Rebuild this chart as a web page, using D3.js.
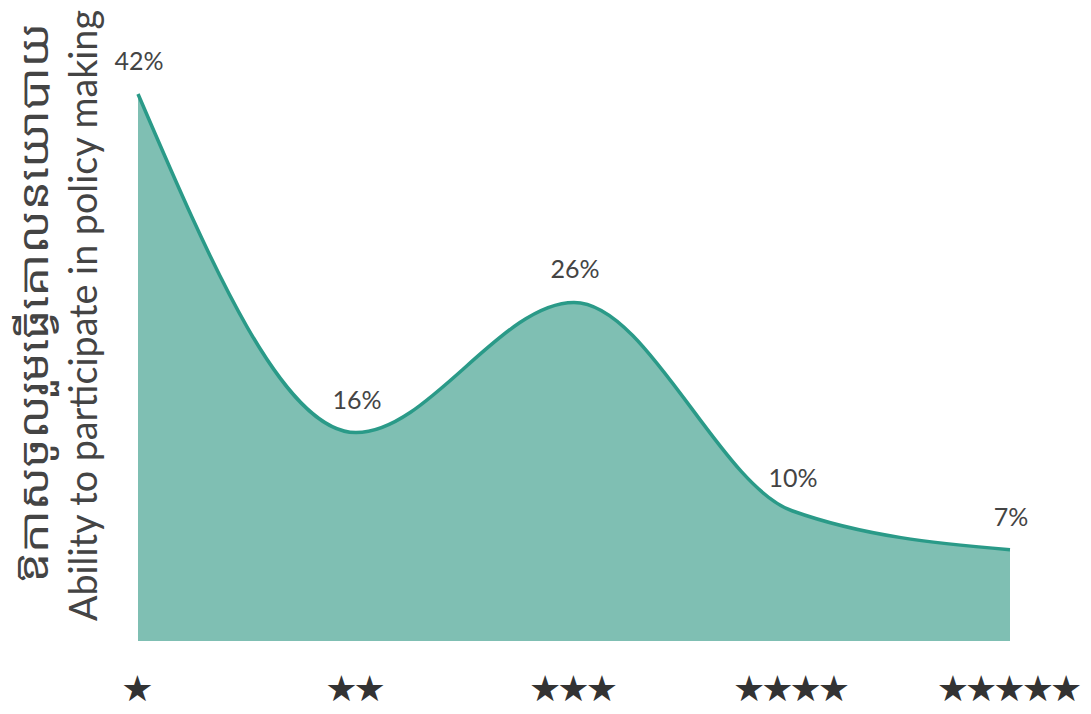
<!DOCTYPE html>
<html>
<head>
<meta charset="utf-8">
<script src="https://cdn.jsdelivr.net/npm/d3@7"></script>
<style>
  html, body { margin: 0; padding: 0; background: #fff; }
  svg { display: block; }
</style>
</head>
<body>
<svg id="chart" width="1091" height="714"></svg>
<script>
// Rating categories (stars) and share of respondents per rating
const ratings = ["★", "★★", "★★★", "★★★★", "★★★★★"];
const shares = [42, 16, 26, 10, 7];
const valueLabels = ["42%", "16%", "26%", "10%", "7%"];
const titleKhmer = "ឱកាសចូលរួមធ្វើគោលនយោបាយ";
const titleEnglish = "Ability to participate in policy making";

const data = ratings.map((r, i) => ({ rating: r, value: shares[i], label: valueLabels[i] }));

const svg = d3.select("#chart");

const x = d3.scalePoint().domain(ratings).range([138, 1010]);
const y = d3.scaleLinear().domain([0, 42]).range([641, 94]);

const area = d3.area()
  .x(d => x(d.rating))
  .y0(y(0))
  .y1(d => y(d.value))
  .curve(d3.curveMonotoneX);

const line = d3.line()
  .x(d => x(d.rating))
  .y(d => y(d.value))
  .curve(d3.curveMonotoneX);

svg.append("path")
  .datum(data)
  .attr("d", area)
  .attr("fill", "#7fbfb3");

svg.append("path")
  .datum(data)
  .attr("d", line)
  .attr("fill", "none")
  .attr("stroke", "#2a9a88")
  .attr("stroke-width", 3.5);

// Value labels above each point
svg.selectAll(".val")
  .data(data)
  .enter().append("text")
  .attr("class", "val")
  .attr("x", d => x(d.rating) + 1)
  .attr("y", d => y(d.value) - 24)
  .attr("text-anchor", "middle")
  .attr("font-family", "Lato, 'Open Sans', sans-serif")
  .attr("font-size", 25)
  .attr("fill", "#444")
  .text(d => d.label);

// Star axis along the bottom
const xAxis = d3.axisBottom(x).tickSize(0).tickPadding(0);
const gx = svg.append("g")
  .attr("transform", "translate(-3,670)")
  .call(xAxis);
gx.select(".domain").remove();
gx.selectAll("text")
  .attr("font-family", "'DejaVu Sans', sans-serif")
  .attr("font-size", 36)
  .attr("letter-spacing", "-4")
  .attr("fill", "#333")
  .attr("dy", "0.85em");

// Rotated bilingual title on the left
svg.append("text")
  .attr("transform", "translate(48,583) rotate(-90)")
  .attr("font-family", "'Noto Sans Khmer', 'Khmer OS', 'Noto Sans', sans-serif")
  .attr("font-size", 40)
  .attr("textLength", 560)
  .attr("lengthAdjust", "spacingAndGlyphs")
  .attr("fill", "#444")
  .text(titleKhmer);

svg.append("text")
  .attr("transform", "translate(97,621) rotate(-90)")
  .attr("font-family", "Lato, 'Open Sans', sans-serif")
  .attr("font-size", 38)
  .attr("textLength", 611)
  .attr("lengthAdjust", "spacingAndGlyphs")
  .attr("fill", "#444")
  .text(titleEnglish);
</script>
</body>
</html>
